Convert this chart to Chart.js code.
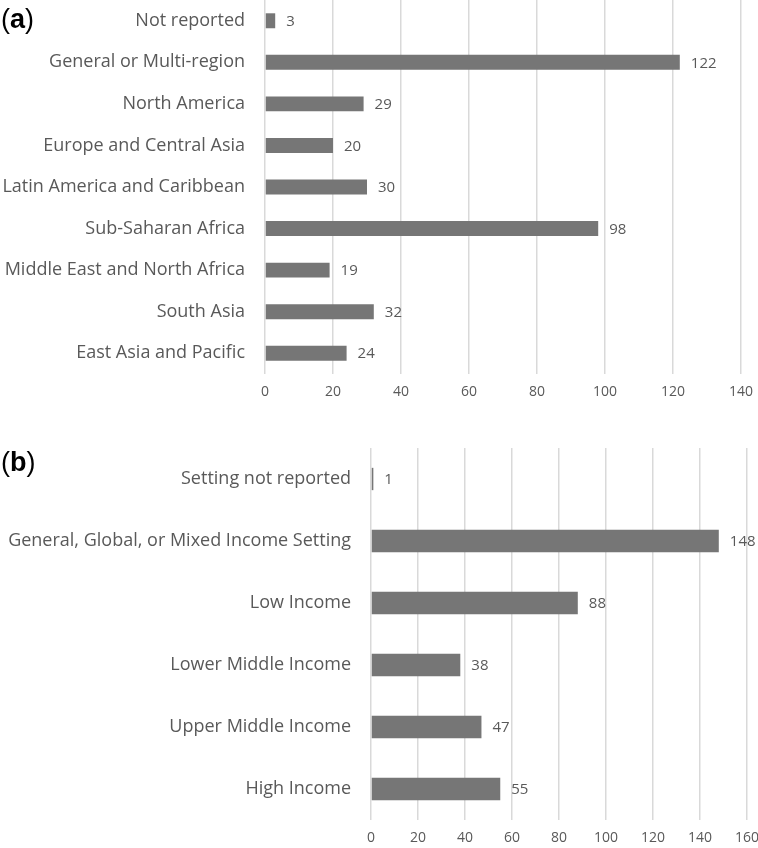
<!DOCTYPE html>
<html>
<head>
<meta charset="utf-8">
<script src="https://cdn.jsdelivr.net/npm/chart.js@4"></script>
<style>
  body { margin: 0; background: #fff; width: 758px; height: 848px; position: relative; overflow: hidden; }
  canvas { position: absolute; left: 0; }
  .panel { position: absolute; left: 1px; font-family: "Liberation Sans", Arial, sans-serif; font-size: 27px; color: #000; line-height: 30px; }
</style>
</head>
<body>
<canvas id="graficoA" width="758" height="402" style="top:0"></canvas>
<canvas id="graficoB" width="758" height="408" style="top:440px"></canvas>
<div class="panel" style="top:4px">(<b>a</b>)</div>
<div class="panel" style="top:447px">(<b>b</b>)</div>
<script>
// (a) regiões
const regioes = ['Not reported', 'General or Multi-region', 'North America', 'Europe and Central Asia',
  'Latin America and Caribbean', 'Sub-Saharan Africa', 'Middle East and North Africa', 'South Asia', 'East Asia and Pacific'];
const valoresRegiao = [3, 122, 29, 20, 30, 98, 19, 32, 24];
const ticksA = [0, 20, 40, 60, 80, 100, 120, 140];

// (b) renda
const rendas = ['Setting not reported', 'General, Global, or Mixed Income Setting', 'Low Income',
  'Lower Middle Income', 'Upper Middle Income', 'High Income'];
const valoresRenda = [1, 148, 88, 38, 47, 55];
const ticksB = [0, 20, 40, 60, 80, 100, 120, 140, 160];

const corTexto = '#595959';
const corBarra = '#767676';
const fonte = '"Open Sans", sans-serif';

const rotulos = {
  id: 'rotulos',
  afterDatasetsDraw(chart) {
    const ctx = chart.ctx;
    const meta = chart.getDatasetMeta(0);
    const dados = chart.data.datasets[0].data;
    ctx.save();
    ctx.font = '15px ' + fonte;
    ctx.fillStyle = corTexto;
    ctx.textBaseline = 'middle';
    ctx.textAlign = 'left';
    meta.data.forEach((bar, i) => {
      ctx.fillText(dados[i], bar.x + 11, bar.y + 1);
    });
    ctx.restore();
  }
};

function gerarGrafico(id, labels, valores, ticks, larguraEixo, padRight, padTop) {
  const ctx = document.getElementById(id).getContext('2d');
  return new Chart(ctx, {
    type: 'bar',
    data: {
      labels: labels,
      datasets: [{
        data: valores,
        backgroundColor: corBarra,
        barPercentage: 0.36,
        categoryPercentage: 1
      }]
    },
    plugins: [rotulos],
    options: {
      indexAxis: 'y',
      responsive: false,
      animation: false,
      layout: { padding: { top: padTop, right: padRight, left: 0, bottom: 0 } },
      plugins: { legend: { display: false }, tooltip: { enabled: false } },
      scales: {
        x: {
          min: ticks[0],
          max: ticks[ticks.length - 1],
          afterBuildTicks: (scale) => { scale.ticks = ticks.map(v => ({ value: v })); },
          afterFit: (scale) => { scale.height = 28; scale.paddingLeft = 0; scale.paddingRight = 0; },
          grid: { color: '#d9d9d9', lineWidth: 1.5, drawTicks: false },
          border: { display: false },
          ticks: { color: corTexto, font: { family: fonte, size: 14 }, padding: 10, maxRotation: 0 }
        },
        y: {
          afterFit: (scale) => { scale.width = larguraEixo; scale.paddingTop = 0; scale.paddingBottom = 0; },
          grid: { display: false, drawTicks: false },
          border: { display: false },
          ticks: { color: corTexto, font: { family: fonte, size: 18 }, padding: 20 }
        }
      }
    }
  });
}

gerarGrafico('graficoA', regioes, valoresRegiao, ticksA, 265, 17, 0);
gerarGrafico('graficoB', rendas, valoresRenda, ticksB, 371, 11, 8);
</script>
</body>
</html>
